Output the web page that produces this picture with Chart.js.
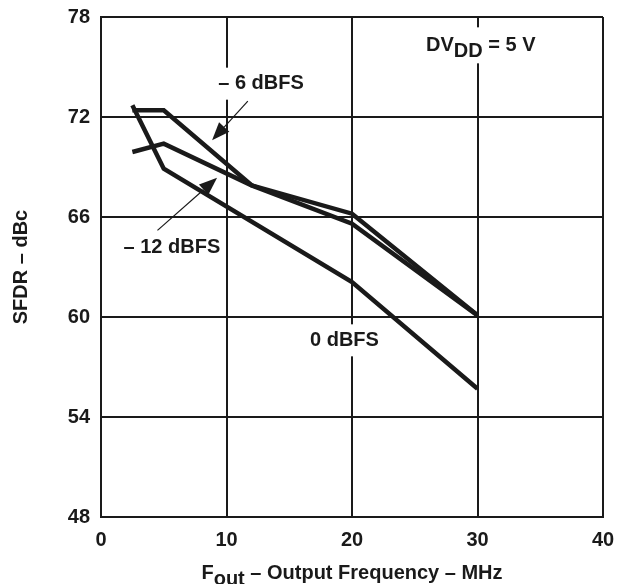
<!DOCTYPE html>
<html>
<head>
<meta charset="utf-8">
<script src="https://cdn.jsdelivr.net/npm/chart.js@4.4.1/dist/chart.umd.min.js"></script>
<style>
html,body{margin:0;padding:0;background:#fff;}
#wrap{width:618px;height:584px;position:relative;}
</style>
</head>
<body>
<div id="wrap"><canvas id="c" width="618" height="584"></canvas></div>
<script>
// ---- data ----
const freqNeg6 = [2.5, 5, 12, 20, 30];
const sfdrNeg6 = [72.4, 72.4, 67.9, 66.2, 60.1];
const freqNeg12 = [2.5, 5, 12, 20, 30];
const sfdrNeg12 = [69.9, 70.4, 67.9, 65.6, 60.1];
const freqZero = [2.5, 5, 20, 30];
const sfdrZero = [72.7, 68.9, 62.1, 55.7];
const xTicks = [0, 10, 20, 30, 40];
const yTicks = [48, 54, 60, 66, 72, 78];
const seriesNames = ['– 6 dBFS', '– 12 dBFS', '0 dBFS'];
const labelPos = [[12.75, 74.0], [5.65, 64.2], [19.4, 58.6]];
const arrowFrom = [[11.7, 72.95], [4.5, 65.2]];
const arrowTo = [[8.85, 70.6], [9.25, 68.35]];
const noteText = ['DV', 'DD', ' = 5 V'];
const notePos = [25.9, 76.3];
const xTitle = ['F', 'out', ' – Output Frequency – MHz'];
const yTitle = 'SFDR – dBc';

const FONT = '"Liberation Sans", Arial, sans-serif';
const toPts = (xs, ys) => xs.map((x, i) => ({x: x, y: ys[i]}));

const lineStyle = {borderColor: '#1a1a1a', borderWidth: 4.5, pointRadius: 0, fill: false, tension: 0, borderJoinStyle: 'miter', borderCapStyle: 'butt'};

const annot = {
  id: 'annot',
  beforeDatasetsDraw(chart) {
    const ctx = chart.ctx, xs = chart.scales.x, ys = chart.scales.y;
    ctx.save();
    ctx.font = 'bold 20px ' + FONT;
    ctx.textBaseline = 'middle';
    ctx.textAlign = 'center';
    seriesNames.forEach((t, i) => {
      const px = xs.getPixelForValue(labelPos[i][0]);
      const py = ys.getPixelForValue(labelPos[i][1]);
      const w = ctx.measureText(t).width;
      const h = i === 1 ? 38 : 32;
      ctx.fillStyle = '#fff';
      ctx.fillRect(px - w / 2 - 4, py - h / 2, w + 8, h);
      ctx.fillStyle = '#1a1a1a';
      ctx.fillText(t, px, py);
    });
    // DVDD note
    const nx = xs.getPixelForValue(notePos[0]);
    const ny = ys.getPixelForValue(notePos[1]);
    ctx.textAlign = 'left';
    const w1 = ctx.measureText(noteText[0]).width;
    const w2 = ctx.measureText(noteText[1]).width;
    const w3 = ctx.measureText(noteText[2]).width;
    ctx.fillStyle = '#fff';
    ctx.fillRect(nx - 2, ny - 18, w1 + w2 + w3 + 4, 36);
    ctx.fillStyle = '#1a1a1a';
    ctx.fillText(noteText[0], nx, ny);
    ctx.fillText(noteText[1], nx + w1, ny + 6);
    ctx.fillText(noteText[2], nx + w1 + w2, ny);
    ctx.restore();
  },
  afterDatasetsDraw(chart) {
    const ctx = chart.ctx, xs = chart.scales.x, ys = chart.scales.y;
    ctx.save();
    ctx.strokeStyle = '#1a1a1a';
    ctx.fillStyle = '#1a1a1a';
    arrowFrom.forEach((f, i) => {
      const x1 = xs.getPixelForValue(f[0]), y1 = ys.getPixelForValue(f[1]);
      const x2 = xs.getPixelForValue(arrowTo[i][0]), y2 = ys.getPixelForValue(arrowTo[i][1]);
      const ang = Math.atan2(y2 - y1, x2 - x1);
      const L = 18, W = 7;
      const bx = x2 - L * Math.cos(ang), by = y2 - L * Math.sin(ang);
      ctx.lineWidth = 1.2;
      ctx.beginPath(); ctx.moveTo(x1, y1); ctx.lineTo(bx, by); ctx.stroke();
      ctx.beginPath();
      ctx.moveTo(x2, y2);
      ctx.lineTo(bx + W * Math.sin(ang), by - W * Math.cos(ang));
      ctx.lineTo(bx - W * Math.sin(ang), by + W * Math.cos(ang));
      ctx.closePath(); ctx.fill();
    });
    // axis titles
    ctx.font = 'bold 20px ' + FONT;
    ctx.textBaseline = 'alphabetic';
    ctx.textAlign = 'left';
    const wa = ctx.measureText(xTitle[0]).width;
    const wb = ctx.measureText(xTitle[1]).width;
    const wc = ctx.measureText(xTitle[2]).width;
    const total = wa + wb + wc;
    const cx = (chart.chartArea.left + chart.chartArea.right) / 2;
    const sx = cx - total / 2;
    const base = 579;
    ctx.fillText(xTitle[0], sx, base);
    ctx.fillText(xTitle[1], sx + wa, base + 6);
    ctx.fillText(xTitle[2], sx + wa + wb, base);
    ctx.translate(27, (chart.chartArea.top + chart.chartArea.bottom) / 2);
    ctx.rotate(-Math.PI / 2);
    ctx.textAlign = 'center';
    ctx.fillText(yTitle, 0, 0);
    ctx.restore();
  }
};

const noPad = s => { s.paddingTop = 0; s.paddingBottom = 0; s.paddingLeft = 0; s.paddingRight = 0; };

new Chart(document.getElementById('c'), {
  type: 'line',
  data: {
    datasets: [
      Object.assign({label: seriesNames[0], data: toPts(freqNeg6, sfdrNeg6)}, lineStyle),
      Object.assign({label: seriesNames[1], data: toPts(freqNeg12, sfdrNeg12)}, lineStyle),
      Object.assign({label: seriesNames[2], data: toPts(freqZero, sfdrZero)}, lineStyle)
    ]
  },
  options: {
    responsive: false,
    animation: false,
    events: [],
    layout: {padding: {top: 17, right: 15, left: 0, bottom: 0}},
    plugins: {legend: {display: false}, tooltip: {enabled: false}},
    scales: {
      x: {
        type: 'linear', min: 0, max: 40,
        afterBuildTicks: s => { s.ticks = xTicks.map(v => ({value: v})); },
        afterFit: s => { s.height = 67; noPad(s); },
        grid: {color: '#1a1a1a', lineWidth: 2, drawTicks: false},
        border: {color: '#1a1a1a', width: 2},
        ticks: {color: '#1a1a1a', padding: 11, maxRotation: 0, font: {family: FONT, size: 20, weight: 'bold'}}
      },
      y: {
        type: 'linear', min: 48, max: 78,
        afterBuildTicks: s => { s.ticks = yTicks.map(v => ({value: v})); },
        afterFit: s => { s.width = 101; noPad(s); },
        grid: {color: '#1a1a1a', lineWidth: 2, drawTicks: false},
        border: {color: '#1a1a1a', width: 2},
        ticks: {color: '#1a1a1a', padding: 11, font: {family: FONT, size: 20, weight: 'bold'}}
      }
    }
  },
  plugins: [annot]
});
</script>
</body>
</html>
